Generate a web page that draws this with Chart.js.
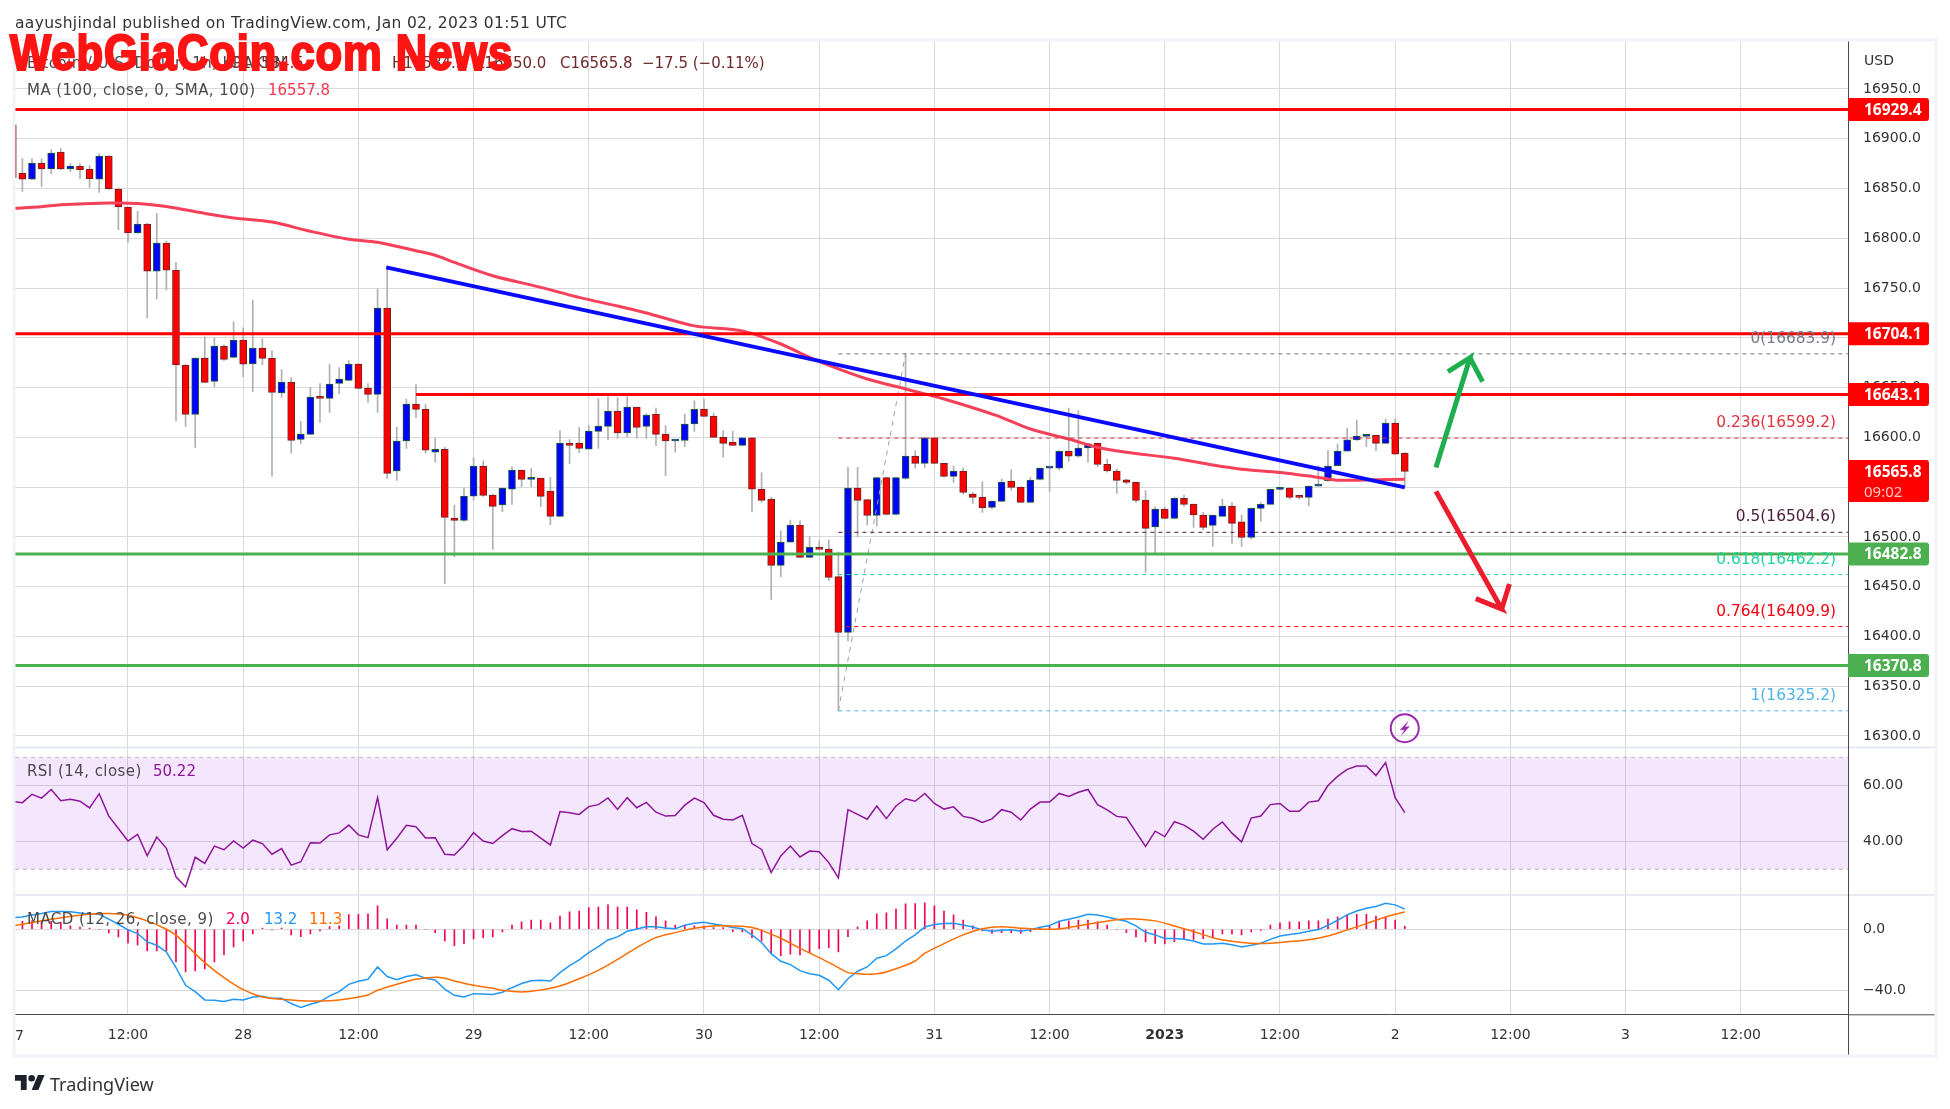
<!DOCTYPE html>
<html>
<head>
<meta charset="utf-8">
<title>BTCUSD 1h</title>
<script src="https://cdn.jsdelivr.net/npm/chart.js@4"></script>
<style>
  html, body { margin: 0; padding: 0; background: #fff; overflow: hidden; }
  #wrap { position: relative; width: 1950px; height: 1109px; font-family: "DejaVu Sans", sans-serif; color: #333; }
  #myChart { position: absolute; left: 0; top: 0; }
  .txt { position: absolute; white-space: pre; font-size: 15px; line-height: 20px; color: #4a4a4a; }
  .lbl { letter-spacing: 0.45px; }
  #mark { position: absolute; left: 10px; top: 24px; white-space: pre; color: #ff1414; font: bold 50px "Liberation Sans Narrow", "Liberation Sans", sans-serif;
          -webkit-text-stroke: 2.2px #ff1414; letter-spacing: 1.1px; transform: scaleX(0.87); transform-origin: left top; }
</style>
</head>
<body>
<div id="wrap">
  <canvas id="myChart" width="1950" height="1109"></canvas>
  <div class="txt" style="left:15px;top:13px;color:#333;font-size:15.5px;letter-spacing:0.33px">aayushjindal published on TradingView.com, Jan 02, 2023 01:51 UTC</div>
  <div class="txt lbl" style="left:27px;top:53px">Bitcoin / U.S. Dollar, 1h, KRAKEN</div>
  <div class="txt" style="left:230px;top:53px;color:#6d2a2a">O16584.5</div>
  <div class="txt" style="left:392px;top:53px;color:#6d2a2a">H16584.5</div>
  <div class="txt" style="left:476px;top:53px;color:#6d2a2a">L16550.0</div>
  <div class="txt" style="left:560px;top:53px;color:#6d2a2a">C16565.8</div>
  <div class="txt" style="left:642px;top:53px;color:#6d2a2a">−17.5 (−0.11%)</div>
  <div id="mark">WebGiaCoin.com News</div>
  <div class="txt lbl" style="left:27px;top:80px">MA (100, close, 0, SMA, 100)</div>
  <div class="txt" style="left:268px;top:80px;color:#f5384f">16557.8</div>
  <div class="txt lbl" style="left:27px;top:761px">RSI (14, close)</div>
  <div class="txt" style="left:153px;top:761px;color:#8e1599">50.22</div>
  <div class="txt lbl" style="left:27px;top:909px">MACD (12, 26, close, 9)</div>
  <div class="txt" style="left:226px;top:909px;color:#f50057">2.0</div>
  <div class="txt" style="left:264px;top:909px;color:#2196f3">13.2</div>
  <div class="txt" style="left:309px;top:909px;color:#ff6d00">11.3</div>
  <div class="txt" style="left:1864px;top:50px;color:#333;font-size:14px">USD</div>
  <div class="txt" style="left:15px;top:1025px;color:#333;font-size:14px">7</div>
  <svg style="position:absolute;left:15px;top:1074px" width="30" height="16" viewBox="0 0 36 19"><path fill="#1e222d" d="M14 19H7V8H0V1h14v18zM28 19h-8l7.5-18h8L28 19z"/><circle cx="20" cy="5" r="4" fill="#1e222d"/></svg>
  <div class="txt" style="left:50px;top:1072px;font-family:'Noto Sans';font-size:18px;line-height:24px;color:#333">TradingView</div>
</div>

<script>
const open = [16914,16865.6,16859.5,16875.6,16869.6,16886.7,16869.6,16872.6,16869.6,16859.5,
  16882.6,16849.5,16831.4,16805.3,16814.3,16767,16795.2,16768,16672.7,16623,
  16679.7,16656.3,16691.8,16680.4,16697.8,16673.7,16689.8,16679.7,16644.6,16655.6,
  16598,16603,16640.9,16639.2,16654.3,16657.3,16673.7,16649.6,16643.2,16729.9,
  16566.2,16596.3,16633.5,16628.5,16585,16588,16519,16516.6,16541,16571.2,
  16542,16532,16548,16567.2,16557.8,16559,16546,16520.6,16594.3,16594.3,
  16588,16606,16611,16626.5,16604.4,16630.5,16611,16623.4,16603.3,16596.3,
  16597,16613.4,16628.5,16621.4,16600,16595.3,16592,16599.4,16548,16538,
  16471.4,16494.8,16511.9,16479.4,16489.4,16487.8,16460,16404,16549,16537.4,
  16521.6,16559.5,16522.6,16558.8,16581.2,16573.9,16599.4,16574,16560.8,16566.2,
  16543,16540,16529.6,16535.7,16556,16550,16534.7,16557.8,16569,16569,
  16586,16581,16589.3,16594,16573,16566.2,16557.4,16555,16537,16510,
  16528,16518.6,16538.7,16533,16522,16511.6,16520.6,16531,16515,16499.5,
  16528.6,16532.7,16547.7,16549,16540.7,16539.7,16551,16556.5,16571.5,16586,
  16597.3,16601,16602.3,16594,16614.4,16584.3];
const high = [16914,16880,16880,16880,16889,16890,16875,16875,16873,16885,
  16883,16850.5,16831.4,16827,16815,16825,16797,16775.8,16673,16680,
  16701,16700,16693,16716,16710,16738,16699,16687,16668,16660,
  16616,16650,16654,16673,16670,16677,16674,16654,16749,16771,
  16610,16638.5,16653,16633,16599,16590,16532,16549,16579.6,16576.5,
  16543,16549,16570.5,16567.2,16568.5,16559,16559.5,16606.7,16597.7,16609.7,
  16611.7,16639,16641,16640,16641,16630.5,16624,16629.5,16611.7,16598,
  16623.5,16636.8,16638.5,16624.5,16606.7,16606,16600,16600,16564.5,16539.7,
  16506,16517,16516.2,16500,16496,16496.8,16484.8,16569.8,16569.8,16537.4,
  16560,16560,16560,16683.9,16586.6,16600,16600,16574,16571.5,16569,
  16544.7,16555.5,16536,16558,16567.5,16550,16559.8,16569.3,16570,16586.6,
  16629.5,16626.8,16594,16594.3,16578,16568,16558,16555,16546.4,16530.3,
  16529.6,16539.7,16542,16533,16524.6,16522,16538,16534.7,16522,16529,
  16534.7,16548,16549.5,16549.7,16541,16551,16571.5,16586.6,16593.3,16609,
  16617.4,16603,16602.3,16618.4,16618.4,16584.5];
const low = [16860,16847,16859,16852,16865,16869,16867,16860,16851,16846,
  16849,16808.6,16796,16805,16720,16739,16748,16616.4,16611,16590,
  16655,16651,16677,16680,16661,16646,16673,16561,16640,16584,
  16594,16603,16615,16625,16644,16657,16649,16635,16625,16558.8,
  16556.8,16589,16619.8,16584,16575,16453,16480,16515.6,16537,16540.7,
  16487.5,16525.3,16532.7,16550.4,16550.4,16530.3,16512.2,16520,16573.5,16584.6,
  16588,16589,16597.6,16599,16600.7,16599,16599,16591.6,16561.5,16585,
  16590.6,16606,16621,16600,16580,16592,16592,16525.3,16534.7,16437.2,
  16460,16494.8,16479,16479,16487,16456,16325.2,16395.6,16500,16512,
  16511,16522,16522,16558,16569,16569.8,16573.5,16560,16554.8,16543,
  16533.7,16524.6,16528,16535.7,16547,16534.5,16534.7,16557,16546,16567,
  16575.9,16580,16575,16570.5,16565,16543.7,16553,16534.7,16464.3,16484,
  16518,16518,16530.6,16509.5,16507,16490.5,16520.6,16493.5,16490.5,16497.8,
  16515.6,16532.5,16547,16538,16538,16531,16551,16555.8,16571.5,16586,
  16597,16590.6,16586.6,16594,16583,16550];
const close = [16861,16859.5,16875.6,16869.6,16885.6,16869.6,16872.6,16868.6,16860,16882.6,
  16849.5,16831.4,16805.3,16814.3,16767,16795.2,16768,16672.7,16623,16679.7,
  16655.3,16691.8,16678.4,16697.8,16673.4,16689.8,16679.4,16645.2,16655.6,16597,
  16603.4,16640.5,16639.2,16653.6,16658.6,16673.7,16649.2,16643.2,16729.9,16563.8,
  16596.3,16633.5,16628.1,16587,16588,16519.6,16516.6,16541,16571.2,16541.7,
  16530.7,16549,16567.2,16557.8,16559,16540.7,16520.6,16594.3,16592,16589,
  16606.4,16611.4,16626.5,16604.4,16630.5,16610,16622.4,16603,16596.3,16597.6,
  16613.4,16628.1,16621.1,16600,16594,16592,16599.4,16548,16536.7,16471.4,
  16494.8,16511.9,16479.4,16489.4,16487.4,16459.3,16404,16549,16536.7,16521.6,
  16559.5,16522.6,16559.5,16581.2,16573.9,16599.4,16573.9,16560.8,16566.2,16544.7,
  16539.7,16529,16536,16555,16549.7,16534.7,16557,16569,16569.5,16586,
  16581,16589.3,16593.6,16572.9,16566.2,16556.8,16554.8,16536.7,16508.6,16528,
  16518.6,16538.7,16532.7,16522,16509.6,16522,16531,16513.6,16499.5,16528.6,
  16532.7,16547.7,16549,16539.7,16539.7,16551,16553,16571.2,16586.3,16597.6,
  16601.3,16602.3,16594,16614.4,16583,16565.8];

// MA(100), read every few hours
const maHours = [0,3,5,10,13,16,20,23,27,31,35,38,42,44,46,50,55,59,63,66,71,76,80,83,86,89,93,97,102.5,106,110,113,116,121,125,128,132,135.5,138,142,145];
const maValues = [16830,16831.7,16833.7,16835.4,16835,16832,16825,16820.4,16816.3,16807,16799,16796,16787.5,16783,16775.8,16762.4,16750.7,16740.6,16732,16725,16712,16707,16693.8,16680.4,16668.7,16658.6,16648.6,16638.5,16621.8,16608.4,16598.3,16590,16585,16579,16572.2,16568,16564.8,16560.5,16557,16557.5,16557.8];

const rsiValues = [54.2,53.8,56.8,55.4,58.5,54.5,55,54.3,51.9,57,
  49,44.6,40.1,42.5,34.8,41.5,37.5,27.3,23.7,34.3,
  32.1,38.3,37,40.1,37.6,40.4,39.2,35.4,37.4,31.5,
  32.7,39.5,39.4,42.3,43,45.8,42.3,41.3,55.6,37,
  41.1,45.7,45.2,41.2,41.3,35.4,35.1,38.6,43.1,40.1,
  39.2,42,44.5,43.5,43.6,41.1,38.7,50.6,50.2,49.6,
  52.4,53.1,55.5,51.4,55.6,52,53.9,50.4,49,49.2,
  52.9,55.4,53.8,49.3,47.9,47.6,49.3,39.2,37.1,28.8,
  34.8,38.3,34.4,36.5,36.3,32.4,26.9,51.3,49.6,47.9,
  52.6,48.1,52.6,55.2,54.3,57.1,53.5,51.5,52.3,48.9,
  48.2,46.7,48,51.3,50.4,47.6,51.5,54,54,57.1,
  56,57.5,58.5,53.1,51.2,48.9,48.5,43.3,38.2,43.6,
  41.7,47,45.8,43.6,40.7,44.3,46.9,42.9,39.8,48.3,
  49,53.1,53.5,50.7,50.7,54,54.5,59.9,63.2,65.7,
  66.9,66.9,63.5,68.1,55.6,50.22];

const macdValues = [7.7,8.1,9.4,10.3,11.6,11.6,11.4,10.7,9.8,9.8,
  6.6,3.3,-0.4,-2.8,-8.3,-10.5,-14.9,-25.1,-36.7,-40.9,
  -46.3,-46.6,-47.4,-45.9,-46.3,-44.4,-43.9,-45.3,-45.3,-48.7,
  -51.2,-49.2,-47.4,-43.7,-40.9,-36.1,-34.1,-32.8,-24.7,-31,
  -33,-31,-29.9,-32.1,-33.2,-39.3,-43.3,-44.4,-42.2,-42.4,
  -42.8,-41.3,-38.3,-35.6,-33.7,-33.4,-33.9,-28.4,-23.8,-20.1,
  -15.3,-11.4,-7,-5,-1.3,0.2,1.7,1.7,0.9,0.4,
  2.6,3.9,4.6,3.5,2.4,1.1,0.4,-3.7,-8.7,-16,
  -21,-23.2,-27.1,-29.1,-30.2,-33.4,-39.6,-32.4,-27.5,-24.7,
  -19,-17.3,-12.9,-7.7,-3.7,1.5,3.1,3.7,3.9,2.8,
  1.5,-0.4,-1.3,-0.7,-0.4,-1.3,-0.4,1.3,2.4,5.2,
  6.6,8.1,9.8,9.4,8.1,6.6,5.2,2.2,-2,-3.7,
  -6.1,-6.1,-6.6,-7.7,-9.6,-9.6,-9.2,-10.1,-11.6,-10.5,
  -9.2,-6.6,-4.4,-3.5,-2.6,-1.3,-0.2,2.6,5.9,9.4,
  12,13.8,14.9,17.1,16,13.2];

const signalHours = [0,4,8,10,12,14,16,17,18,20,22,24,26,28,30,32,34,36,37,38,40,42,44,45,46,48,50,51,53,55,57,59,61,63,65,67,69,71,73,76,77,78,80,82,84,86,87,88,89,90,91,93,94,95,97,99,101,103,105,107,109,111,113,115,117,119,121,123,125,127,129,131,133,135,137,139,141,143,145];
const signalValues = [2.2,6.6,9.8,10.3,9.2,5.5,0,-3.9,-9.8,-21.9,-31.7,-39.6,-44.4,-45.9,-46.8,-47,-46.3,-44.4,-43.1,-40,-36.1,-32.8,-31.5,-32.1,-33.9,-36.7,-38.7,-40,-41.1,-39.8,-37.2,-32.4,-26.9,-19.7,-12,-5.5,-2.2,0.7,2.2,2,1.1,-0.7,-5.9,-12.5,-18.6,-25.1,-28.4,-29.1,-29.5,-29.1,-28,-23.6,-20.8,-15.7,-9.4,-3.7,0.4,1.7,0.7,0,0.2,2.2,4.4,6.3,6.8,5.5,2.2,-1.5,-5.5,-7.9,-9.2,-9.2,-8.1,-6.8,-4.4,-0.4,3.7,8.1,11.3];

const histValues = [2.2,5.2,5.5,5.5,5.2,4.6,2.2,1.5,0.7,0,
  -2.4,-5,-9,-10.3,-14.2,-14.2,-14.2,-21.4,-28,-27.3,
  -26,-21.4,-16.6,-11.6,-7.7,-3.1,0.7,-0.4,0.7,-3.7,
  -4.8,-3.1,-1.1,1.7,2.2,9.6,9.8,10.1,15.3,6.8,
  2.8,2.8,2.8,0,-2.2,-7.7,-10.7,-9.4,-6.3,-5.5,
  -5,-1.7,2.8,4.8,6.1,6.1,4.2,8.7,11.4,12,
  14.2,14.6,16,14.6,14.6,12.7,11.1,8.1,5.5,2.8,
  2.8,2.2,2.2,1.1,1.1,-1.5,-1.7,-5.5,-7.7,-15.7,
  -17.3,-16.4,-16.8,-15.3,-12.7,-12,-14.9,-4.8,1.5,5.5,
  10.1,10.7,13.3,16.6,16.8,17.3,15.3,12,9.4,6.1,
  2.2,-1.1,-2.8,-2.2,-2.2,-2.8,-1.5,1.1,2.2,5,
  5.5,6.1,6.1,4.8,2.8,0,-2.2,-5,-8.3,-9.2,
  -9.6,-8.1,-6.6,-6.6,-6.1,-5,-3.1,-3.1,-3.7,-1.7,
  -0.7,2.8,4.2,4.8,4.8,5.5,5.5,6.6,8.1,9.4,
  9.8,9.8,8.7,8.1,6.1,2];

// drawn levels and labels on the price axis
const redLevels = [16929.4, 16704.1];
const shortRedLevel = 16643.1;
const shortRedStart = 42;
const greenLevels = [16482.8, 16370.8];
const fibLevels = [16683.9, 16599.2, 16504.6, 16462.2, 16409.9, 16325.2];
const fibNames = ["0", "0.236", "0.5", "0.618", "0.764", "1"];
const fibColors = ["#787b86", "#e0323c", "#4a1a3c", "#22d3a0", "#f5000f", "#4fb3e8"];
const fibStart = 86;
const fibEnd = 93;
const trendHours = [38.9, 145];
const trendPrices = [16770.8, 16549.7];
const greenArrowHours = [148.25, 151.8, 149.5, 151.8, 153.1];
const greenArrowPrices = [16569.6, 16680, 16666, 16680, 16656];
const redArrowHours = [148.25, 155.1, 152.4, 155.1, 155.9];
const redArrowPrices = [16545.7, 16427.6, 16438, 16427.6, 16452.7];
const priceTags = [16929.4, 16704.1, 16643.1, 16482.8, 16370.8];
const priceTagColors = ["#ff0000", "#ff0000", "#ff0000", "#4caf50", "#4caf50"];
const lastPrice = 16565.8;
const countdown = "09:02";
const timeLabels = ["12:00","28","12:00","29","12:00","30","12:00","31","12:00","2023","12:00","2","12:00","3","12:00"];

const FONT = '"DejaVu Sans", sans-serif';
const TAG_FONT = '"Noto Sans", sans-serif';
const MIN_H = 0.23;
const MAX_H = 191.17;

const pts = (xs, ys) => xs.map((x, i) => ({ x: x, y: ys[i] }));
const hours = open.map((v, i) => i);

function levelLine(label, xs, ys, color, width, dash, order, yAxisID) {
  return {
    type: "line", label, data: pts(xs, ys), borderColor: color, borderWidth: width,
    borderDash: dash || [], pointRadius: 0, tension: 0, order, yAxisID: yAxisID || "y", fill: false,
  };
}

const datasets = [];
// candles
datasets.push({
  type: "bar", label: "wick", grouped: false, order: 30, yAxisID: "y",
  data: hours.map((h, i) => ({ x: h, y: [low[i], high[i]] })),
  backgroundColor: "#b0b0b0", barThickness: 1, borderWidth: 0,
});
datasets.push({
  type: "bar", label: "body", grouped: false, order: 29, yAxisID: "y",
  data: hours.map((h, i) => ({ x: h, y: [open[i], close[i]] })),
  backgroundColor: hours.map((h, i) => (close[i] >= open[i] ? "#0000ff" : "#ff0000")),
  borderColor: hours.map((h, i) => (close[i] >= open[i] ? "#1d5f33" : "#6e2222")),
  borderWidth: 1, borderSkipped: false, barThickness: 7, minBarLength: 2,
});
// MA
datasets.push({
  type: "line", label: "MA", data: pts(maHours, maValues), borderColor: "#f5405a", borderWidth: 3,
  pointRadius: 0, tension: 0.3, order: 20, yAxisID: "y",
});
// fib levels + diagonal
fibLevels.forEach((v, i) => {
  datasets.push(levelLine("fib " + fibNames[i], [fibStart, MAX_H], [v, v], fibColors[i], 1, [4, 4], 15));
});
datasets.push(levelLine("fib trend", [fibStart, fibEnd], [fibLevels[5], fibLevels[0]], "#a0a0a0", 1, [5, 5], 15));
// horizontal levels
redLevels.forEach((v) => datasets.push(levelLine("res " + v, [MIN_H, MAX_H], [v, v], "#ff0000", 3, null, 10)));
datasets.push(levelLine("res " + shortRedLevel, [shortRedStart, MAX_H], [shortRedLevel, shortRedLevel], "#ff0000", 3, null, 10));
greenLevels.forEach((v) => datasets.push(levelLine("sup " + v, [MIN_H, MAX_H], [v, v], "#4caf50", 3, null, 10)));
datasets.push(levelLine("trend", trendHours, trendPrices, "#0a0aff", 4, null, 9));
datasets.push(levelLine("up arrow", greenArrowHours, greenArrowPrices, "#1fae4f", 5, null, 8));
datasets.push(levelLine("down arrow", redArrowHours, redArrowPrices, "#ed1c2c", 5, null, 8));
// RSI
datasets.push({
  type: "line", label: "rsi top", data: pts([MIN_H, MAX_H], [70, 70]), yAxisID: "rsi",
  borderColor: "#b9b3c4", borderWidth: 1, borderDash: [4, 4], pointRadius: 0,
  backgroundColor: "rgba(155,50,235,0.12)", fill: "+1", order: 28,
});
datasets.push({
  type: "line", label: "rsi bottom", data: pts([MIN_H, MAX_H], [30, 30]), yAxisID: "rsi",
  borderColor: "#b9b3c4", borderWidth: 1, borderDash: [4, 4], pointRadius: 0, fill: false, order: 28,
});
datasets.push({
  type: "line", label: "RSI", data: pts(hours, rsiValues), yAxisID: "rsi",
  borderColor: "#8e1599", borderWidth: 1.5, pointRadius: 0, tension: 0, order: 5,
});
// MACD
datasets.push({
  type: "bar", label: "hist", grouped: false, yAxisID: "macd", order: 7,
  data: pts(hours, histValues), backgroundColor: "#f50057", barThickness: 1, borderWidth: 0,
});
datasets.push({
  type: "line", label: "MACD", data: pts(hours, macdValues), yAxisID: "macd",
  borderColor: "#2196f3", borderWidth: 1.5, pointRadius: 0, tension: 0, order: 6,
});
datasets.push({
  type: "line", label: "Signal", data: pts(signalHours, signalValues), yAxisID: "macd",
  borderColor: "#ff6d00", borderWidth: 1.5, pointRadius: 0, tension: 0.3, order: 5,
});

// frame, pane separators, fib labels, price tags
const overlay = {
  id: "overlay",
  afterDraw(chart) {
    const c = chart.ctx;
    const y = chart.scales.y;
    const x = chart.scales.x;
    const right = y.right;
    c.save();
    // separators
    c.strokeStyle = "#e0e3eb";
    c.lineWidth = 1.5;
    [chart.scales.rsi.top, chart.scales.macd.top].forEach((p) => {
      c.beginPath(); c.moveTo(x.left, p); c.lineTo(right, p); c.stroke();
    });
    c.strokeStyle = "#4a4a4a";
    c.lineWidth = 1;
    c.beginPath(); c.moveTo(x.right + 0.5, y.top); c.lineTo(x.right + 0.5, x.bottom); c.stroke();
    c.beginPath(); c.moveTo(x.right, x.top + 0.5); c.lineTo(right, x.top + 0.5); c.stroke();
    // frame
    c.strokeStyle = "#f0f3fa";
    c.lineWidth = 3;
    c.strokeRect(x.left - 1, y.top - 1, right - x.left + 2, x.bottom - y.top + 2);

    // fib labels
    c.textAlign = "right";
    c.textBaseline = "middle";
    c.font = "15.4px " + FONT;
    fibLevels.forEach((v, i) => {
      c.fillStyle = fibColors[i];
      c.fillText(fibNames[i] + "(" + v.toFixed(1) + ")", x.right - 12, y.getPixelForValue(v) - 15);
    });

    // price tags
    c.textAlign = "left";
    c.font = "bold 15.5px " + TAG_FONT;
    priceTags.forEach((v, i) => {
      const py = y.getPixelForValue(v);
      c.fillStyle = priceTagColors[i];
      c.beginPath(); c.roundRect(x.right, py - 11.5, 81, 23, [0, 3, 3, 0]); c.fill();
      c.fillStyle = "#fff";
      c.fillText(v.toFixed(1), x.right + 16, py + 1);
    });
    const ly = y.getPixelForValue(lastPrice);
    c.fillStyle = "#ff0000";
    c.beginPath(); c.roundRect(x.right, ly - 11.5, 81, 42, [0, 3, 3, 0]); c.fill();
    c.fillStyle = "#fff";
    c.fillText(lastPrice.toFixed(1), x.right + 16, ly + 1);
    c.font = "15px " + TAG_FONT;
    c.fillStyle = "#ffc4c4";
    c.fillText(countdown, x.right + 16, ly + 21);

    // flash icon over the last bar
    const ix = x.getPixelForValue(145);
    const iy = y.getPixelForValue(16307.8);
    c.strokeStyle = "#9c27b0";
    c.lineWidth = 2;
    c.beginPath(); c.arc(ix, iy, 14, 0, Math.PI * 2); c.stroke();
    c.fillStyle = "#9c27b0";
    c.beginPath();
    c.moveTo(ix + 4, iy - 8); c.lineTo(ix - 5, iy + 2); c.lineTo(ix - 0.5, iy + 1.5);
    c.lineTo(ix - 4, iy + 8); c.lineTo(ix + 5, iy - 2); c.lineTo(ix + 0.5, iy - 1.5);
    c.closePath(); c.fill();
    c.restore();
  },
};

const gridColor = "#d9d9d9";
const tickFont = { family: FONT, size: 14 };
function yAxis(weight, size, min, max, step, fmt) {
  return {
    type: "linear", position: "right", stack: "panes", stackWeight: size, weight: weight,
    min: min, max: max,
    grid: { color: gridColor, drawTicks: false, lineWidth: 1 },
    border: { color: "#4a4a4a", display: true },
    ticks: { stepSize: step, includeBounds: false, padding: 15, color: "#333", font: tickFont, callback: fmt },
    afterFit(s) { s.width = 87; },
  };
}

const myChart = new Chart(document.getElementById("myChart").getContext("2d"), {
  type: "bar",
  data: { datasets },
  plugins: [overlay],
  options: {
    responsive: false,
    animation: false,
    events: [],
    layout: { padding: { left: 15, right: 15, top: 41, bottom: 54 } },
    plugins: { legend: { display: false }, tooltip: { enabled: false }, title: { display: false } },
    scales: {
      x: {
        type: "linear", min: MIN_H, max: MAX_H, position: "bottom", offset: false,
        grid: { color: gridColor, drawTicks: false, lineWidth: 1, offset: false },
        border: { color: "#4a4a4a" },
        ticks: {
          stepSize: 12, includeBounds: false, maxRotation: 0, autoSkip: false, padding: 13, color: "#333",
          font: (ctx) => (ctx.tick && ctx.tick.value === 120 ? { family: FONT, size: 14, weight: "bold" } : tickFont),
          callback: (v) => timeLabels[v / 12 - 1],
        },
        afterFit(s) { s.height = 40.7; },
      },
      y: yAxis(0, 706.5, 16288.4, 16998.2, 50, (v) => v.toFixed(1)),
      rsi: yAxis(1, 147.5, 20.82, 73.5, 20, (v) => v.toFixed(2)),
      macd: yAxis(2, 119.3, -55.74, 22.46, 40, (v) => (v < 0 ? "−" + Math.abs(v).toFixed(1) : v.toFixed(1))),
    },
  },
});
</script>
</body>
</html>
